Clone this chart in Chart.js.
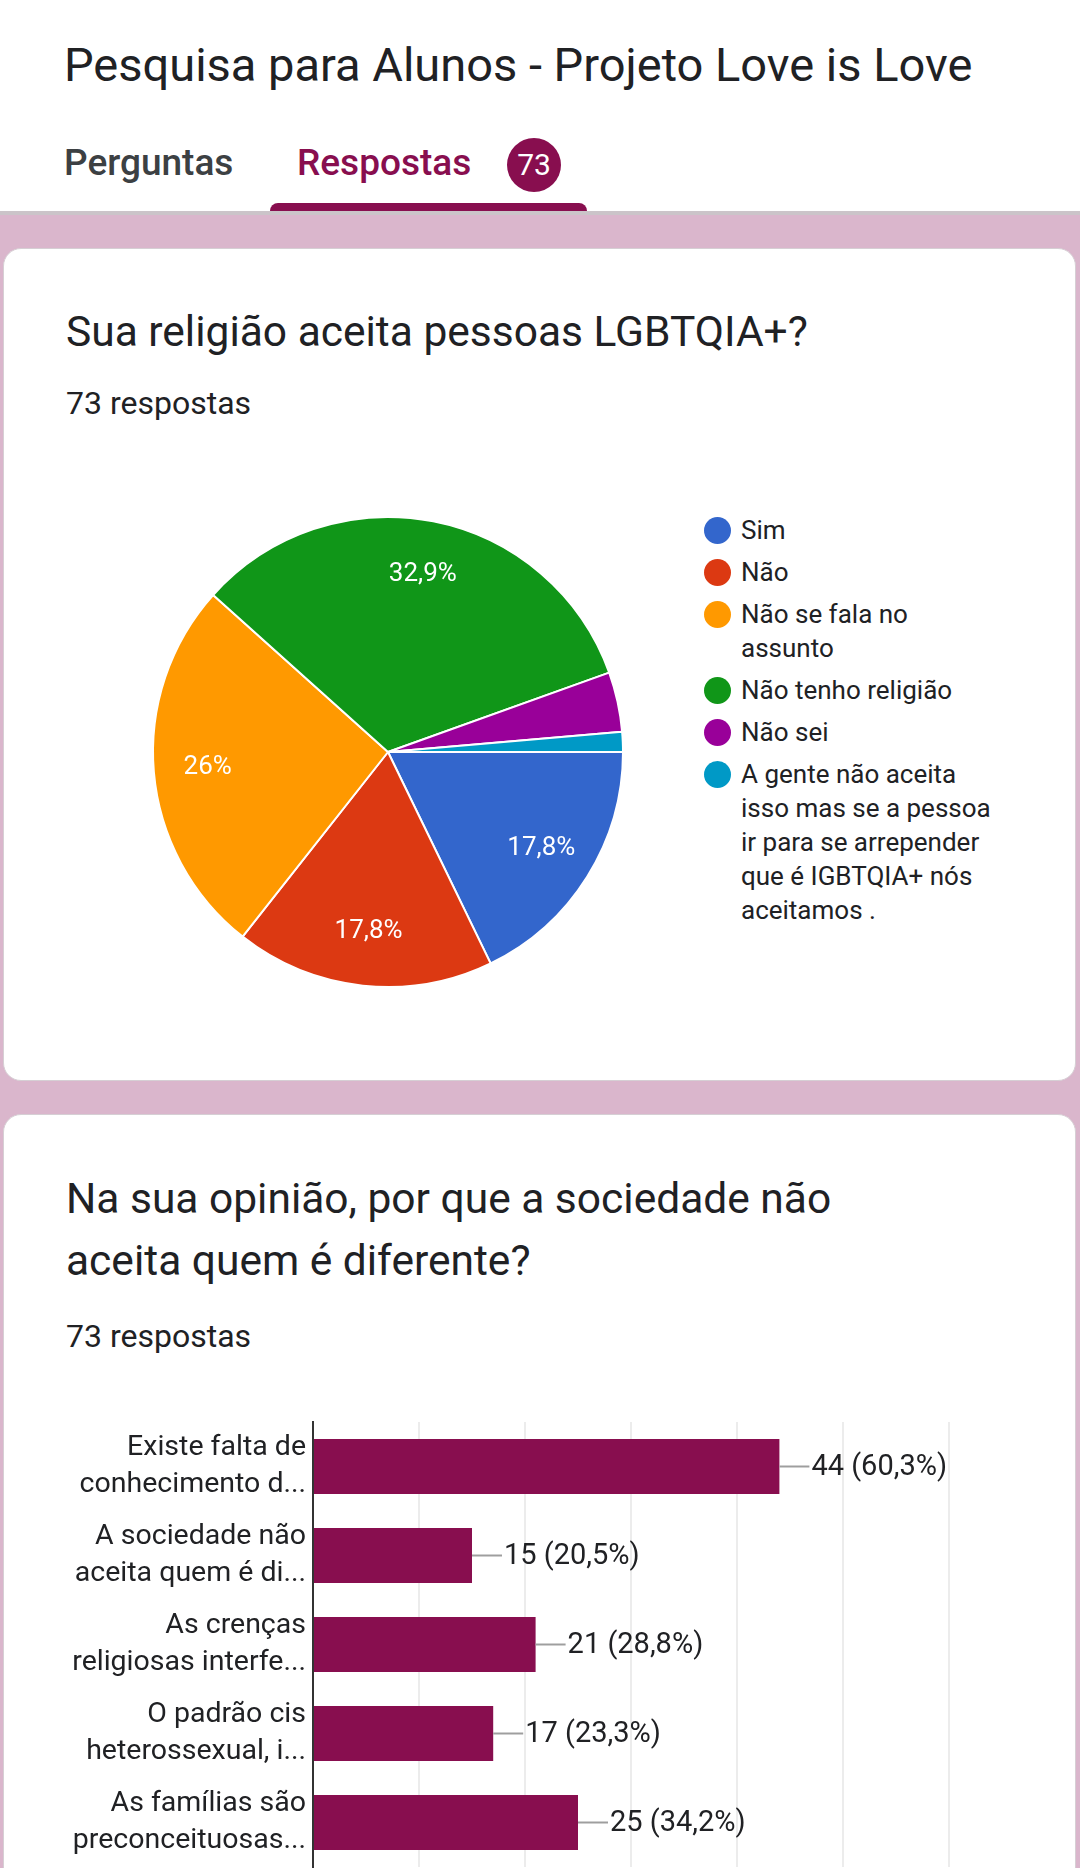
<!DOCTYPE html>
<html>
<head>
<meta charset="utf-8">
<script src="https://cdn.jsdelivr.net/npm/chart.js@4.4.1/dist/chart.umd.min.js"></script>
<style>
  html, body { margin: 0; padding: 0; }
  body {
    width: 1080px; height: 1868px; overflow: hidden; position: relative;
    background: #dab6cc; font-family: Roboto, sans-serif; color: #202124;
  }
  .abs { position: absolute; white-space: nowrap; }
  #header { position: absolute; left: 0; top: 0; width: 1080px; height: 211px; background: #fff; }
  #shade { position: absolute; left: 0; top: 211px; width: 1080px; height: 4px; background: #cbc4c9; }
  .card {
    position: absolute; left: 3px; width: 1073px; background: #fff;
    border: 1px solid #d6cfd4; border-radius: 18px; box-sizing: border-box;
  }
  .title { font-size: 47px; line-height: 47px; }
  .tab { font-size: 37px; line-height: 37px; font-weight: 500; }
  .q { font-size: 42.5px; line-height: 62px; }
  .count { font-size: 32px; line-height: 32px; }
  #badge {
    position: absolute; left: 507px; top: 138px; width: 54px; height: 54px; border-radius: 50%;
    background: #880e4f; color: #fff; font-size: 30px; line-height: 54px; text-align: center;
  }
  #tabline { position: absolute; left: 270px; top: 203px; width: 317px; height: 8px; background: #880e4f; border-radius: 8px 8px 0 0; }
  #legend { position: absolute; left: 704px; top: 513px; width: 300px; font-size: 26px; line-height: 34px; color: #202124; }
  .item { position: relative; padding-left: 37px; margin-bottom: 8px; width: 258px; }
  .dot { position: absolute; left: 0; top: 4px; width: 27px; height: 27px; border-radius: 50%; }
</style>
</head>
<body>
<div id="header">
  <div class="abs title" style="left:64px; top:41px;">Pesquisa para Alunos - Projeto Love is Love</div>
  <div class="abs tab" style="left:64px; top:144px; color:#3c4043;">Perguntas</div>
  <div class="abs tab" style="left:297px; top:144px; color:#880e4f;">Respostas</div>
  <div id="badge">73</div>
  <div id="tabline"></div>
</div>
<div id="shade"></div>

<div class="card" style="top:248px; height:833px;"></div>
<div class="abs q" style="left:66px; top:301px;">Sua religião aceita pessoas LGBTQIA+?</div>
<div class="abs count" style="left:66px; top:387px;">73 respostas</div>
<canvas id="pie" width="500" height="500" style="position:absolute; left:138px; top:502px;"></canvas>
<div id="legend"></div>

<div class="card" style="top:1114px; height:900px;"></div>
<div class="abs q" style="left:66px; top:1168px;">Na sua opinião, por que a sociedade não<br>aceita quem é diferente?</div>
<div class="abs count" style="left:66px; top:1320px;">73 respostas</div>
<canvas id="bars" width="1080" height="540" style="position:absolute; left:0; top:1400px;"></canvas>

<script>
'use strict';

const totalResponses = 73

const pieLabels = ['Sim', 'Não', 'Não se fala no assunto', 'Não tenho religião', 'Não sei',
    'A gente não aceita isso mas se a pessoa ir para se arrepender que é IGBTQIA+ nós aceitamos .']
const pieCounts = [13, 13, 19, 24, 3, 1]
const pieColors = ['#3366cc', '#dc3912', '#ff9900', '#109618', '#990099', '#0099c6']

const barLabels = [
    ['Existe falta de', 'conhecimento d...'],
    ['A sociedade não', 'aceita quem é di...'],
    ['As crenças', 'religiosas interfe...'],
    ['O padrão cis', 'heterossexual, i...'],
    ['As famílias são', 'preconceituosas...']
]
const barCounts = [44, 15, 21, 17, 25]
const xMax = 60, xStep = 10

Chart.defaults.font.family = 'Roboto'
Chart.defaults.color = '#202124'

function pct(v, decimals) {
    let p = (v / totalResponses * 100).toFixed(1).replace('.', ',')
    if (!decimals && p.endsWith(',0')) p = p.slice(0, -2)
    return p + '%'
}

// legend for the pie, built from the same arrays
const legend = document.getElementById('legend')
pieLabels.forEach((label, i) => {
    const item = document.createElement('div')
    item.className = 'item'
    item.innerHTML = `<span class="dot" style="background:${pieColors[i]}"></span>${label}`
    legend.appendChild(item)
})

const pieText = {
    id: 'pieText',
    afterDatasetsDraw(chart) {
        const ctx = chart.ctx
        ctx.save()
        ctx.fillStyle = '#fff'
        ctx.font = '26px Roboto'
        ctx.textAlign = 'center'
        ctx.textBaseline = 'middle'
        chart.getDatasetMeta(0).data.forEach((arc, i) => {
            if (pieCounts[i] / totalResponses < 0.05) return
            const mid = (arc.startAngle + arc.endAngle) / 2
            const r = arc.outerRadius * 0.77
            ctx.fillText(pct(pieCounts[i]), arc.x + Math.cos(mid) * r, arc.y + Math.sin(mid) * r)
        })
        ctx.restore()
    }
}

new Chart(document.getElementById('pie'), {
    type: 'pie',
    data: {
        labels: pieLabels,
        datasets: [{
            data: pieCounts,
            backgroundColor: pieColors,
            borderColor: '#fff',
            borderWidth: 2
        }]
    },
    options: {
        responsive: false,
        animation: false,
        rotation: 90,
        radius: 235,
        plugins: { legend: { display: false }, tooltip: { enabled: false } }
    },
    plugins: [pieText]
})

const barText = {
    id: 'barText',
    afterDatasetsDraw(chart) {
        const ctx = chart.ctx
        ctx.save()
        ctx.font = '29px Roboto'
        ctx.textBaseline = 'middle'
        ctx.textAlign = 'left'
        chart.getDatasetMeta(0).data.forEach((bar, i) => {
            ctx.strokeStyle = '#9e9e9e'
            ctx.lineWidth = 2
            ctx.beginPath()
            ctx.moveTo(bar.x, bar.y)
            ctx.lineTo(bar.x + 30, bar.y)
            ctx.stroke()
            ctx.fillStyle = '#202124'
            ctx.fillText(`${barCounts[i]} (${pct(barCounts[i], true)})`, bar.x + 32, bar.y + 1)
        })
        ctx.restore()
    }
}

new Chart(document.getElementById('bars'), {
    type: 'bar',
    data: {
        labels: barLabels,
        datasets: [{
            data: barCounts,
            backgroundColor: '#880e4f',
            categoryPercentage: 1,
            barPercentage: 0.62
        }]
    },
    options: {
        indexAxis: 'y',
        responsive: false,
        animation: false,
        layout: { padding: { top: 22, right: 131, left: 0, bottom: 0 } },
        scales: {
            x: {
                min: 0, max: xMax,
                ticks: { stepSize: xStep, font: { size: 24 } },
                grid: { color: '#ececec', lineWidth: 2, drawTicks: false },
                border: { display: false },
                afterFit(scale) {
                    scale.height = 540 - 22 - 445
                    scale.paddingLeft = 0
                    scale.paddingRight = 0
                }
            },
            y: {
                ticks: { padding: 7, font: { size: 28.5, lineHeight: 1.28 }, color: '#202124' },
                grid: { display: false, drawTicks: false },
                border: { display: true, color: '#333', width: 2 },
                afterFit(scale) {
                    scale.width = 313
                    scale.paddingTop = 0
                    scale.paddingBottom = 0
                }
            }
        },
        plugins: { legend: { display: false }, tooltip: { enabled: false } }
    },
    plugins: [barText]
})
</script>
</body>
</html>
